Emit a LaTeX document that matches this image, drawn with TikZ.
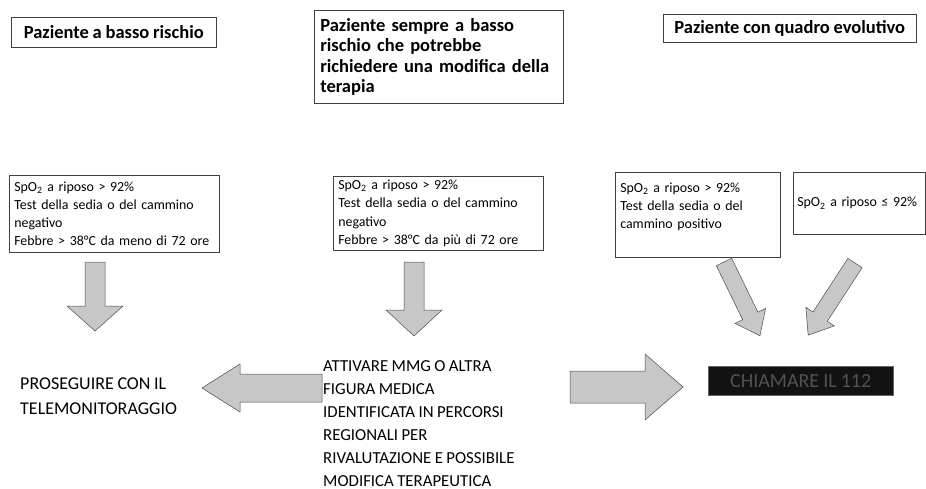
\documentclass[tikz,border=0pt]{standalone}
\usepackage{fontspec}
\setmainfont{Carlito}[WordSpace=0.9]
\tikzset{
  box/.style={draw=black!75, line width=0.6pt, anchor=north west, inner xsep=6pt, inner ysep=3pt, align=left},
  hdr/.style={box, font=\fontsize{18.5}{20.5}\selectfont\bfseries},
  crit/.style={box, inner xsep=5pt, font=\fontsize{13.9}{18.2}\selectfont},
  fat/.style={draw=black!70, fill=black!22, line width=0.5pt, line join=miter},
  bigtxt/.style={align=left, inner sep=0pt},
}
% #1 start point, #2 canvas angle, #3 length, #4 shaft half width, #5 head half width, #6 head length
\newcommand\fatarrow[6]{%
  \draw[fat, shift={(#1)}, rotate=#2] (0,-#4) -- (#3-#6,-#4) -- (#3-#6,-#5) -- (#3,0)
    -- (#3-#6,#5) -- (#3-#6,#4) -- (0,#4) -- cycle;}
\begin{document}
\begin{tikzpicture}[x=1pt, y=-1pt]
\useasboundingbox[fill=white] (0,0) rectangle (926,489);
% headers
\node[hdr, inner xsep=8pt, minimum width=205, minimum height=30] (h1) at (11,17) {Paziente a basso rischio};
\node[hdr, text width=237, minimum height=93] (h2) at (314,10) {Paziente sempre a basso\\ rischio che potrebbe\\ richiedere una modifica della\\ terapia};
\node[hdr, minimum width=253, minimum height=28] (h3) at (663,14) {Paziente con quadro evolutivo};
% criteria boxes
\node[crit, text width=200, minimum height=77] (c1) at (9,175) {SpO\textsubscript{2} a riposo > 92\%\\ Test della sedia o del cammino\\ negativo\\ Febbre > 38°C da meno di 72 ore};
\node[crit, text width=200, minimum height=74] (c2) at (333,176) {SpO\textsubscript{2} a riposo > 92\%\\ Test della sedia o del cammino\\ negativo\\ Febbre > 38°C da più di 72 ore};
\node[crit, text width=155, minimum height=85] (c3) at (615,172) {SpO\textsubscript{2} a riposo > 92\%\\ Test della sedia o del\\ cammino positivo\\ \mbox{}};
\node[crit, inner xsep=4pt, text width=124, minimum height=62] (c4) at (793,172) {SpO\textsubscript{2} a riposo ≤ 92\%};
% outcomes
\node[bigtxt, anchor=west, font=\fontsize{18}{25}\selectfont] (o1) at (20,396) {PROSEGUIRE CON IL\\ TELEMONITORAGGIO};
\node[bigtxt, anchor=north west, font=\fontsize{16.8}{23}\selectfont] (o2) at (323,360) {ATTIVARE MMG O ALTRA\\ FIGURA MEDICA\\ IDENTIFICATA IN PERCORSI\\ REGIONALI PER\\ RIVALUTAZIONE E POSSIBILE\\ MODIFICA TERAPEUTICA};
\node[fill=black!93, draw=black!60, minimum width=185, minimum height=29, anchor=north west, text=black!68, font=\fontsize{20}{22}\selectfont] (o3) at (708,366) {CHIAMARE IL 112};
% fat arrows
\fatarrow{95,262}{-90}{69}{10}{28}{25}
\fatarrow{414,262}{-90}{74}{10}{28}{26}
\fatarrow{322,388}{180}{120}{14}{24}{38}
\fatarrow{570,387}{0}{113}{16}{33}{38}
\fatarrow{724,262}{-64}{82}{8.5}{17}{22}
\fatarrow{855,263}{-123}{86}{8.5}{17}{22}
\end{tikzpicture}
\end{document}
